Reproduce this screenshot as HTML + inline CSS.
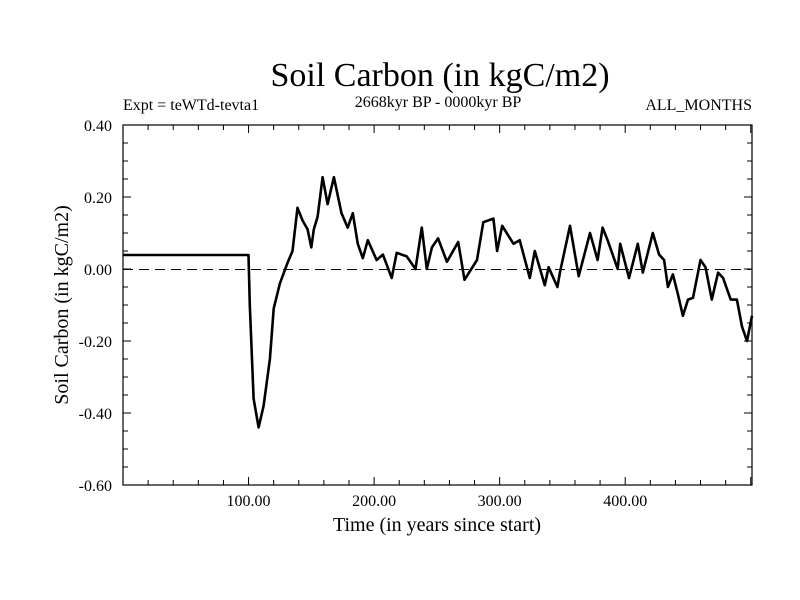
<!DOCTYPE html>
<html><head><meta charset="utf-8"><style>
body{margin:0;background:#fff;}
svg{display:block;font-family:"Liberation Serif",serif;}
</style></head><body>
<svg id="chart" width="800" height="600" viewBox="0 0 800 600">
<text x="440" y="86" font-size="34" text-anchor="middle">Soil Carbon (in kgC/m2)</text>
<text x="123" y="110" font-size="16">Expt = teWTd-tevta1</text>
<text x="438" y="107" font-size="16" text-anchor="middle">2668kyr BP - 0000kyr BP</text>
<text x="752" y="110" font-size="16" text-anchor="end">ALL_MONTHS</text>
<text transform="translate(68,305) rotate(-90)" font-size="20" text-anchor="middle">Soil Carbon (in kgC/m2)</text>
<text x="437" y="531" font-size="20" text-anchor="middle">Time (in years since start)</text>
<g id="ticks"></g>
<g id="marks"></g>
<rect x="123" y="125" width="629" height="360" fill="none" stroke="#000" stroke-width="1.2"/>
</svg>
<script>
const years = [0,100,101,104,108,112,117,120,125,131,135,139,143,147,150,152,155,159,163,168,174,179,183,187,191,195,202,207,214,218,226,233,238,242,246,251,258,267,272,282,287,295,298,302,311,316,324,328,336,339,346,348,356,363,372,378,382,386,394,396,403,410,414,422,427,431,434,438,442,446,450,454,460,464,469,474,478,484,489,493,497,501];
const carbon = [0.039,0.039,-0.1,-0.36,-0.44,-0.38,-0.25,-0.11,-0.04,0.017,0.05,0.17,0.135,0.11,0.06,0.11,0.145,0.255,0.18,0.255,0.155,0.115,0.155,0.07,0.03,0.08,0.025,0.04,-0.025,0.045,0.035,0.0,0.115,0.0,0.06,0.085,0.02,0.075,-0.03,0.025,0.13,0.14,0.05,0.12,0.07,0.08,-0.025,0.05,-0.045,0.005,-0.05,-0.01,0.12,-0.02,0.1,0.025,0.115,0.08,0.0,0.07,-0.025,0.07,-0.01,0.1,0.04,0.025,-0.05,-0.015,-0.07,-0.13,-0.085,-0.08,0.025,0.005,-0.085,-0.01,-0.025,-0.085,-0.085,-0.16,-0.2,-0.13];
const yTickValues = [0.4,0.2,0.0,-0.2,-0.4,-0.6];
const yTickLabels = ["0.40","0.20","0.00","-0.20","-0.40","-0.60"];
const xTickValues = [100,200,300,400];
const xTickLabels = ["100.00","200.00","300.00","400.00"];

const X0=123,X1=752,Y0=125,Y1=485,XMIN=0,XMAX=501,YMIN=-0.6,YMAX=0.4;
const sx=v=>X0+(v-XMIN)/(XMAX-XMIN)*(X1-X0);
const sy=v=>Y1-(v-YMIN)/(YMAX-YMIN)*(Y1-Y0);
const NS="http://www.w3.org/2000/svg";
const ticks=document.getElementById('ticks'), marks=document.getElementById('marks');
function mk(tag,attrs,parent){const e=document.createElementNS(NS,tag);for(const k in attrs)e.setAttribute(k,attrs[k]);parent.appendChild(e);return e;}

let d='';
for(let t=20;t<XMAX;t+=20){const x=sx(t);const L=(t%100===0)?8:5;d+=`M${x},${Y1}v${-L}M${x},${Y0}v${L}`;}
for(let v=-0.55;v<0.4;v+=0.05){const y=sy(v);const major=Math.abs(Math.round(v*100)%20)===0;const L=major?8:5;d+=`M${X0},${y}h${L}M${X1},${y}h${-L}`;}
const tp=mk('path',{d:d,stroke:'#000','stroke-width':1,fill:'none'},ticks);



yTickValues.forEach((v,i)=>{const t=mk('text',{x:112,y:sy(v)+6,'font-size':16,'text-anchor':'end'},ticks);t.textContent=yTickLabels[i];

});
xTickValues.forEach((v,i)=>{const t=mk('text',{x:sx(v),y:506,'font-size':16,'text-anchor':'middle'},ticks);t.textContent=xTickLabels[i];

});

const zy=Math.round(sy(0))+0.5;
const zl=mk('line',{x1:X0,x2:X1,y1:zy,y2:zy,stroke:'#000','stroke-width':1,'stroke-dasharray':'10,6'},marks);



const pts=years.map((t,i)=>sx(t).toFixed(1)+','+sy(carbon[i]).toFixed(1)).join(' ');
const line=mk('polyline',{points:pts,fill:'none',stroke:'#000','stroke-width':2.6,'stroke-linejoin':'round'},marks);


</script>
</body></html>
